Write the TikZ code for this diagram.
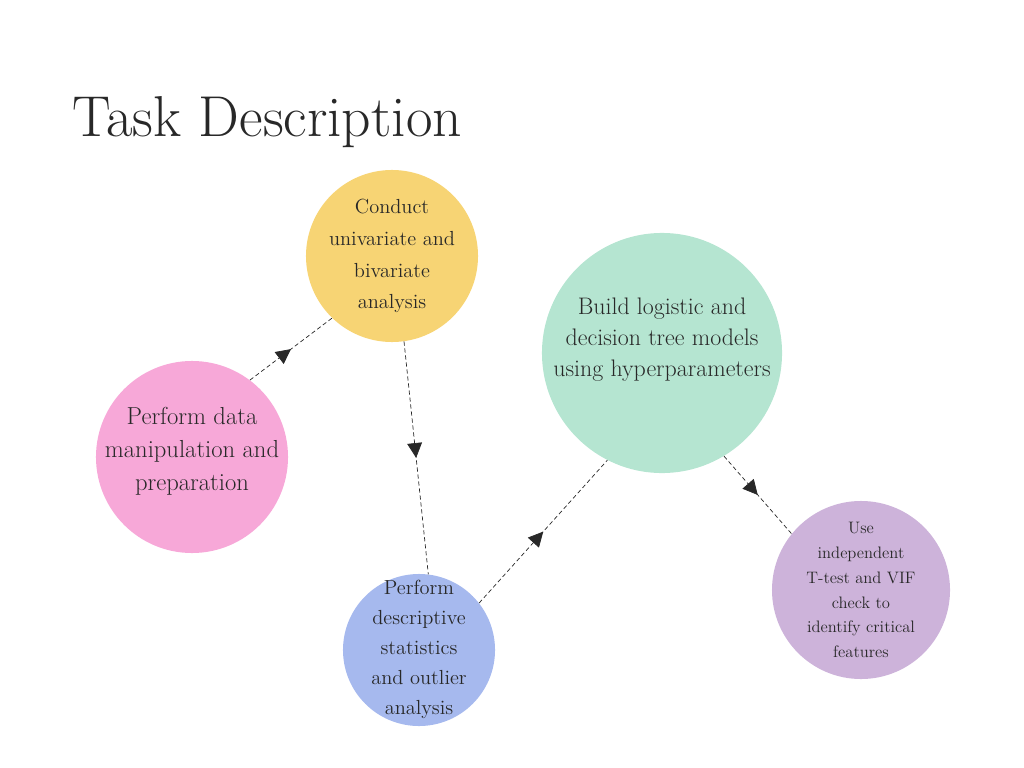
\documentclass[tikz,border=0pt]{standalone}
\usetikzlibrary{shapes.geometric, arrows.meta, decorations.markings}
\definecolor{sunyellow}{RGB}{247,212,116}
\definecolor{candypink}{RGB}{247,168,216}
\definecolor{mintgreen}{RGB}{181,229,209}
\definecolor{skyblue}{RGB}{166,185,238}
\definecolor{lilac}{RGB}{205,179,218}
\definecolor{inkgray}{RGB}{40,40,40}

\tikzset{
  bubble/.style={circle, inner sep=-40pt, align=center, text=inkgray},
  flow/.style={densely dashed, line width=0.5pt, draw=inkgray, postaction={decorate},
    decoration={markings, mark=at position 0.5 with {\arrow[inkgray]{Triangle[length=0.37cm, width=0.37cm]}}}}
}

\begin{document}
\begin{tikzpicture}[x=0.025cm, y=-0.025cm]
\useasboundingbox (0,0) rectangle (1024,768);

% Title
\node[anchor=base west, inner sep=0pt, text=inkgray, font=\fontsize{41}{44}\selectfont] (title) at (72,137) {Task Description};

% Univariate and bivariate analysis
\node[bubble, fill=sunyellow, minimum size=4.3cm, font=\fontsize{14.5}{22.7}\selectfont] (univariate) at (392,256) {
    Conduct\\univariate and\\bivariate\\analysis
};

% Data manipulation
\node[bubble, fill=candypink, minimum size=4.8cm, font=\fontsize{17.5}{23.4}\selectfont] (manipulation) at (192,457) {
    Perform data\\manipulation and\\preparation\\[-12pt]\mbox{}
};

% Model building
\node[bubble, fill=mintgreen, minimum size=6cm, font=\fontsize{17}{22}\selectfont] (models) at (662,353) {
    Build logistic and\\decision tree models\\using hyperparameters\\\mbox{}
};

% Descriptive statistics
\node[bubble, fill=skyblue, minimum size=3.8cm, font=\fontsize{14.5}{21.3}\selectfont] (descriptive) at (419,650) {
    \mbox{}\\[-12pt]Perform\\descriptive\\statistics\\and outlier\\analysis
};

% Feature checks
\node[bubble, fill=lilac, minimum size=4.45cm, font=\fontsize{11.8}{17.7}\selectfont] (features) at (861,590) {
    Use\\independent\\T-test and VIF\\check to\\identify critical\\features
};

% Connections
\draw[flow] (manipulation.53) -- (univariate.226);
\draw[flow] (univariate.278) -- (descriptive.83);
\draw[flow] (descriptive.38) -- (models.243);
\draw[flow] (models.301) -- (features.141);
\end{tikzpicture}
\end{document}
